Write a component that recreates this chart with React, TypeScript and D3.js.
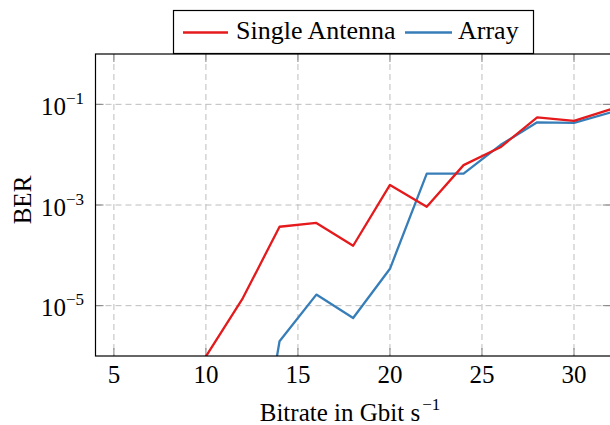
import * as d3 from 'd3';

const bitrates = [8, 10, 12, 14, 16, 18, 20, 22, 24, 26, 28, 30, 32];
const singleBer = [1e-8, 9.8e-7, 1.4e-5, 3.7e-4, 4.4e-4, 1.55e-4, 2.5e-3, 9.2e-4, 6.2e-3, 1.4e-2, 5.5e-2, 4.7e-2, 8e-2];
const arrayBer = [1e-12, 1e-11, 1e-10, 1.96e-6, 1.66e-5, 5.7e-6, 5.4e-5, 4.2e-3, 4.2e-3, 1.55e-2, 4.4e-2, 4.3e-2, 6.9e-2];
const xTicks = [5, 10, 15, 20, 25, 30];
const yTickExps = [-1, -3, -5];

const W = 610;
const H = 425;
const m = { left: 95.5, right: 610.8, top: 54, bottom: 356 };
const font = "'Liberation Serif', 'Times New Roman', serif";
const RED = '#e41a1c';
const BLUE = '#377eb8';

export default function App() {
  const x = d3.scaleLinear().domain([4, 32]).range([m.left, m.right]);
  const y = d3.scaleLog().domain([1e-6, 1]).range([m.bottom, m.top]);

  const line = d3
    .line<number>()
    .x((_, i) => x(bitrates[i]))
    .y((d) => y(d));

  return (
    <svg
      width={W}
      height={H}
      style={{ position: 'absolute', left: 0, top: 0, background: '#fff', fontFamily: font }}
    >
      <defs>
        <clipPath id="plot">
          <rect x={m.left} y={m.top} width={m.right - m.left} height={m.bottom - m.top} />
        </clipPath>
      </defs>

      {/* dashed grid on major ticks */}
      <g stroke="#bdbdbd" strokeWidth={1} strokeDasharray="6 4">
        {xTicks.map((t) => (
          <line key={'gx' + t} x1={x(t)} x2={x(t)} y1={m.top} y2={m.bottom} />
        ))}
        {yTickExps.map((e) => (
          <line key={'gy' + e} x1={m.left} x2={m.right} y1={y(Math.pow(10, e))} y2={y(Math.pow(10, e))} />
        ))}
      </g>

      {/* inward ticks on all sides */}
      <g stroke="#808080" strokeWidth={1}>
        {xTicks.map((t) => (
          <g key={'tx' + t}>
            <line x1={x(t)} x2={x(t)} y1={m.bottom} y2={m.bottom - 8} />
            <line x1={x(t)} x2={x(t)} y1={m.top} y2={m.top + 8} />
          </g>
        ))}
        {yTickExps.map((e) => (
          <g key={'ty' + e}>
            <line x1={m.left} x2={m.left + 8} y1={y(Math.pow(10, e))} y2={y(Math.pow(10, e))} />
            <line x1={m.right} x2={m.right - 8} y1={y(Math.pow(10, e))} y2={y(Math.pow(10, e))} />
          </g>
        ))}
      </g>

      <g clipPath="url(#plot)" fill="none" strokeWidth={2.3} strokeLinejoin="round">
        <path d={line(arrayBer) || ''} stroke={BLUE} />
        <path d={line(singleBer) || ''} stroke={RED} />
      </g>

      <rect
        x={m.left}
        y={m.top}
        width={m.right - m.left}
        height={m.bottom - m.top}
        fill="none"
        stroke="#000"
        strokeWidth={1.2}
      />

      {xTicks.map((t) => (
        <text key={'lx' + t} x={x(t)} y={383} fontSize={25} textAnchor="middle">
          {t}
        </text>
      ))}

      {yTickExps.map((e) => (
        <text key={'ly' + e} x={84} y={y(Math.pow(10, e)) + 10.5} fontSize={25} textAnchor="end">
          10
          <tspan fontSize={17} dy={-11}>
            {'\u2212' + Math.abs(e)}
          </tspan>
        </text>
      ))}

      <text x={350} y={421} fontSize={25} textAnchor="middle">
        Bitrate in Gbit s
        <tspan fontSize={17} dx={2} dy={-11}>
          {'\u22121'}
        </tspan>
      </text>
      <text transform="translate(31,200) rotate(-90)" fontSize={25} textAnchor="middle">
        BER
      </text>

      {/* legend */}
      <rect x={173.5} y={10.5} width={360} height={43} fill="#fff" stroke="#000" strokeWidth={1.2} />
      <line x1={183} x2={228} y1={32.5} y2={32.5} stroke={RED} strokeWidth={2.3} />
      <text x={236} y={38.5} fontSize={26}>
        Single Antenna
      </text>
      <line x1={405} x2={452} y1={32.5} y2={32.5} stroke={BLUE} strokeWidth={2.3} />
      <text x={458} y={38.5} fontSize={26}>
        Array
      </text>
    </svg>
  );
}
